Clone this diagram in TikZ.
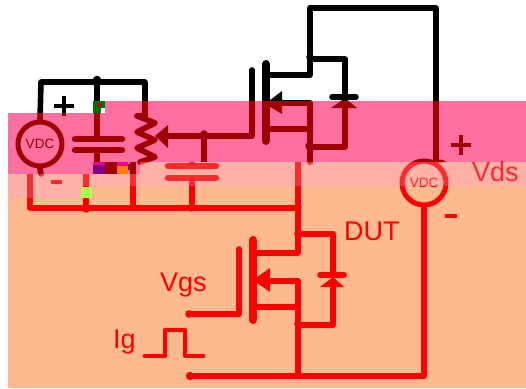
\documentclass[tikz,border=0pt]{standalone}
\usepackage{fontspec}
\setmainfont{Liberation Sans}
\definecolor{pinkband}{HTML}{FF6F9F}
\definecolor{lightband}{HTML}{FFB0A8}
\definecolor{orangebg}{HTML}{FFB98E}
\definecolor{darkwire}{HTML}{A00000}
\definecolor{lightwire}{HTML}{FF2A2A}
\definecolor{redwire}{HTML}{FF0000}
\tikzset{
  wire/.style={draw=wirecol,line width=5.6pt,line join=round,line cap=round},
  plate/.style={draw=wirecol,line width=6.4pt,line cap=round},
  thin wire/.style={draw=wirecol,line width=4.8pt,line join=round,line cap=round},
  bar/.style={draw=wirecol,line width=8pt,line cap=round},
  dot/.style={fill=wirecol,draw=none},
  tip/.style={fill=wirecol,draw=none},
  vdc/.style={circle,draw=wirecol,line width=5pt,minimum size=44pt,inner sep=0pt,text=wirecol,font=\fontsize{13.5}{14}\selectfont},
  lab/.style={text=wirecol,inner sep=0pt,font=\fontsize{27}{28}\selectfont},
  sign/.style={draw=wirecol,line width=4pt}
}
\newcommand{\circuitall}{%
  % upper-left source and rail
  \node[vdc] (v1) at (40,144) {VDC};
  \coordinate (railL) at (41,82);
  \coordinate (railR) at (145,82);
  \coordinate (capTop) at (97,82);
  \draw[wire] (v1.north) -- (railL) -- (railR) -- (145,116);
  \draw[wire] (v1.south) -- (41,174);
  \fill[dot] (97,80) circle (4.2);
  \draw[wire] (capTop) -- (97,139);
  \draw[plate] (75,139) -- (122,139);
  \draw[plate] (75,150) -- (122,150);
  \draw[wire] (97,150) -- (97,165);
  % potentiometer
  \draw[wire] (137,116) -- (155,123) -- (137,132) -- (155,140) -- (137,148) -- (155,157) -- (140,162);
  \draw[wire] (145,112) -- (145,116) -- (137,116);
  \fill[tip] (155,136) -- (168,125) -- (168,148) -- cycle;
  \draw[wire] (168,136) -- (252,136) -- (252,70);
  \fill[dot] (204,134) circle (3.8);
  \draw[wire,line cap=butt] (204,136) -- (204,162);
  % upper MOSFET
  \draw[bar] (266,64) -- (266,141);
  \draw[wire] (266,75) -- (310,75) -- (310,8) -- (436,8) -- (436,162);
  \draw[wire] (310,59) -- (345,59) -- (345,97);
  \fill[dot] (310,57) circle (3.8);
  \draw[wire] (332,97) -- (356,97);
  \fill[tip] (345,98) -- (331,108) -- (357,108) -- cycle;
  \draw[wire] (345,108) -- (345,147) -- (310,147);
  \fill[dot] (309,146) circle (3.8);
  \fill[tip] (265,104) -- (282,91) -- (282,114) -- cycle;
  \draw[wire] (282,103) -- (310,103) -- (310,162);
  \draw[wire] (266,129) -- (310,129);
  \fill[tip] (426,162) -- (446,162) -- (442,159.5) -- (430,159.5) -- cycle;
  % lower part of the upper-left block
  \draw[wire,line cap=butt] (30,174) -- (30,208) -- (298,208);
  \draw[wire,line cap=butt] (86,174) -- (86,208);
  \draw[wire,line cap=butt] (133,162) -- (133,208);
  \draw[plate] (168,166) -- (216,166);
  \draw[plate] (168,178) -- (216,178);
  \draw[wire,line cap=butt] (192,162) -- (192,166);
  \draw[wire,line cap=butt] (192,178) -- (192,208);
  \fill[dot] (86,209) circle (3.8);
  \fill[dot] (133,208) circle (3.2);
  \fill[dot] (191,208) circle (3.8);
  \draw[wire,line cap=butt] (103,167) -- (132,167);
  % lower MOSFET (DUT)
  \draw[bar] (253,240) -- (253,320);
  \draw[wire] (239,249) -- (239,314) -- (189,314);
  \fill[dot] (189,314) circle (3.8);
  \draw[wire,line cap=butt] (298,162) -- (298,253);
  \draw[wire] (253,253) -- (298,253);
  \fill[dot] (298,207) circle (3.8);
  \fill[dot] (298,234) circle (3.8);
  \draw[wire] (298,234) -- (333,234) -- (333,275);
  \draw[wire] (320,275) -- (344,275);
  \fill[tip] (333,277) -- (320,287) -- (344,287) -- cycle;
  \draw[wire] (333,287) -- (333,325) -- (298,325);
  \fill[dot] (298,324) circle (3.8);
  \fill[tip] (253,280) -- (270,268) -- (270,292) -- cycle;
  \draw[wire] (270,281) -- (298,281) -- (298,376);
  \draw[wire] (253,307) -- (298,307);
  % right source
  \node[vdc] (v2) at (424,183) {VDC};
  \draw[wire] (v2.south) -- (424,376) -- (190,376);
  \fill[dot] (190,376) circle (4.2);
  % gate pulse
  \draw[thin wire] (145,356) -- (165,356) -- (165,330) -- (185,330) -- (185,356) -- (203,356);
  % signs and labels
  \draw[sign] (54,106) -- (74,106) (64,96) -- (64,116);
  \draw[sign] (51,182) -- (62,182);
  \draw[sign] (451,145) -- (471,145) (461,135) -- (461,155);
  \draw[sign] (445,216) -- (457,216);
  \node[lab,anchor=base west] (lvds) at (472,181) {Vds};
  \node[lab,anchor=base west] (ldut) at (344,240) {DUT};
  \node[lab,anchor=base west] (lvgs) at (160,291) {Vgs};
  \node[lab,anchor=base west] (lig) at (113,348) {Ig};
}
\newcommand{\pinkpoly}{(8,113) -- (93,113) -- (93,101) -- (526,101) -- (526,162) -- (140,162) -- (140,174) -- (8,174) -- cycle}
\newcommand{\lightpoly}{(8,174) -- (140,174) -- (140,162) -- (526,162) -- (526,186) -- (80,186) -- (80,198) -- (8,198) -- cycle}
\newcommand{\toppoly}{(0,0) -- (526,0) -- (526,101) -- (93,101) -- (93,113) -- (0,113) -- cycle}
\begin{document}
\begin{tikzpicture}[x=1pt,y=-1pt]
  \useasboundingbox (0,0) rectangle (526,388);
  \fill[white] (0,0) rectangle (526,388);
  \fill[orangebg] (8,186) rectangle (526,388);
  \fill[pinkband] \pinkpoly;
  \fill[lightband] \lightpoly;
  \begin{scope}\colorlet{wirecol}{black}\clip \toppoly; \circuitall\end{scope}
  \begin{scope}\colorlet{wirecol}{darkwire}\clip \pinkpoly; \circuitall\end{scope}
  \begin{scope}\colorlet{wirecol}{lightwire}\clip \lightpoly; \circuitall\end{scope}
  \begin{scope}\colorlet{wirecol}{redwire}\clip (80,198) -- (0,198) -- (0,388) -- (526,388) -- (526,186) -- (80,186) -- cycle; \circuitall\end{scope}
  % image noise blocks
  \fill[green!45!black] (93,101) rectangle (105,113);
  \fill[red!70!black] (97,103) rectangle (101,107);
  \fill[white] (101,108) rectangle (105,113);
  \fill[violet] (93,162) rectangle (105,174);
  \fill[magenta] (93,162) rectangle (105,165);
  \fill[darkwire] (105,162) rectangle (117,174);
  \fill[orange] (117,166) rectangle (128,174);
  \fill[magenta] (117,162) rectangle (128,166);
  \fill[green!50!yellow!70!white] (81,187) rectangle (92,198);
\end{tikzpicture}
\end{document}
